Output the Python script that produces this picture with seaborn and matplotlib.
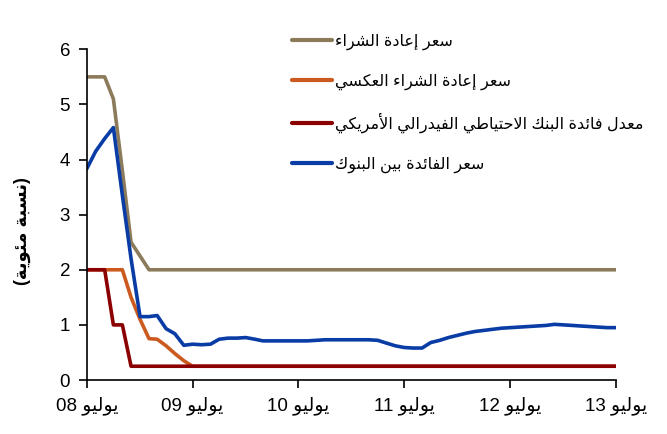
import numpy as np
import pandas as pd
import matplotlib
matplotlib.use("Agg")
import matplotlib.pyplot as plt
import seaborn as sns

# ---------------- data ----------------
start_month = "2008-07-01"
n_months = 61

repo_rate = [5.5, 5.5, 5.5, 5.1, 3.8, 2.5, 2.25, 2.0] + [2.0] * 53

reverse_repo_rate = [2.0, 2.0, 2.0, 2.0, 2.0, 1.5, 1.1, 0.75, 0.74, 0.62, 0.48, 0.35, 0.25] + [0.25] * 48

fed_rate = [2.0, 2.0, 2.0, 1.0, 1.0, 0.25] + [0.25] * 55

interbank_rate = [
    3.83, 4.15, 4.38, 4.58, 3.35, 2.2, 1.15, 1.15, 1.17, 0.93,
    0.84, 0.63, 0.65, 0.64, 0.65, 0.74, 0.76, 0.76, 0.77, 0.74,
    0.71, 0.71, 0.71, 0.71, 0.71, 0.71, 0.72, 0.73, 0.73, 0.73,
    0.73, 0.73, 0.73, 0.72, 0.67, 0.62, 0.59, 0.58, 0.58, 0.68,
    0.72, 0.77, 0.81, 0.85, 0.88, 0.90, 0.92, 0.94, 0.95, 0.96,
    0.97, 0.98, 0.99, 1.01, 1.00, 0.99, 0.98, 0.97, 0.96, 0.95,
    0.95,
]

series_names = [
    "سعر إعادة الشراء",
    "سعر إعادة الشراء العكسي",
    "معدل فائدة البنك الاحتياطي الفيدرالي الأمريكي",
    "سعر الفائدة بين البنوك",
]
series_colors = ["#8C7B5B", "#CC5A1E", "#8B0000", "#0A3CA5"]

tick_years = ["08", "09", "10", "11", "12", "13"]
tick_month_word = "يوليو"
y_label_text = "نسبة مئوية"
y_ticks = [0, 1, 2, 3, 4, 5, 6]

# ---------------- minimal Arabic shaping (presentation forms) ----------------
RIGHT_JOIN = {'آ': 0xFE81, 'أ': 0xFE83, 'ؤ': 0xFE85, 'إ': 0xFE87, 'ا': 0xFE8D,
              'ة': 0xFE93, 'د': 0xFEA9, 'ذ': 0xFEAB, 'ر': 0xFEAD, 'ز': 0xFEAF,
              'و': 0xFEED, 'ى': 0xFEEF}
DUAL_JOIN = {'ئ': 0xFE89, 'ب': 0xFE8F, 'ت': 0xFE95, 'ث': 0xFE99, 'ج': 0xFE9D,
             'ح': 0xFEA1, 'خ': 0xFEA5, 'س': 0xFEB1, 'ش': 0xFEB5, 'ص': 0xFEB9,
             'ض': 0xFEBD, 'ط': 0xFEC1, 'ظ': 0xFEC5, 'ع': 0xFEC9, 'غ': 0xFECD,
             'ف': 0xFED1, 'ق': 0xFED5, 'ك': 0xFED9, 'ل': 0xFEDD, 'م': 0xFEE1,
             'ن': 0xFEE5, 'ه': 0xFEE9, 'ي': 0xFEF1}
LAM_ALEF = {'آ': 0xFEF5, 'أ': 0xFEF7, 'إ': 0xFEF9, 'ا': 0xFEFB}


def shape(text):
    chars = list(text)
    n = len(chars)
    out = []
    i = 0
    while i < n:
        c = chars[i]
        prev_connects = i > 0 and chars[i - 1] in DUAL_JOIN
        if c == 'ل' and i + 1 < n and chars[i + 1] in LAM_ALEF:
            out.append(chr(LAM_ALEF[chars[i + 1]] + (1 if prev_connects else 0)))
            i += 2
            continue
        nxt = chars[i + 1] if i + 1 < n else ''
        next_connects = nxt in DUAL_JOIN or nxt in RIGHT_JOIN
        if c in DUAL_JOIN:
            b = DUAL_JOIN[c]
            if prev_connects and next_connects:
                out.append(chr(b + 3))
            elif prev_connects:
                out.append(chr(b + 1))
            elif next_connects:
                out.append(chr(b + 2))
            else:
                out.append(chr(b))
        elif c in RIGHT_JOIN:
            b = RIGHT_JOIN[c]
            out.append(chr(b + 1) if prev_connects else chr(b))
        elif c == 'ء':
            out.append('\uFE80')
        else:
            out.append(c)
        i += 1
    return ''.join(reversed(out))


# ---------------- plot ----------------
sns.set_theme(style="ticks")
plt.rcParams['font.family'] = ['Liberation Sans', 'DejaVu Sans']
plt.rcParams['text.color'] = 'black'
plt.rcParams['xtick.color'] = 'black'
plt.rcParams['ytick.color'] = 'black'
plt.rcParams['axes.labelcolor'] = 'black'

dates = pd.date_range(start_month, periods=n_months, freq="MS")
df = pd.DataFrame({
    "date": dates,
    series_names[0]: repo_rate,
    series_names[1]: reverse_repo_rate,
    series_names[2]: fed_rate,
    series_names[3]: interbank_rate,
})

fig = plt.figure(figsize=(6.67, 4.34), dpi=100)
ax = fig.add_axes([0.130, 0.1244, 0.7935, 0.762])

for name, color in zip(series_names, series_colors):
    sns.lineplot(data=df, x="date", y=name, ax=ax, color=color, linewidth=2.6,
                 label=shape(name))

ax.set_ylim(0, 6)
ax.set_yticks(y_ticks)
ax.set_yticklabels([str(v) for v in y_ticks], fontsize=13.5)
ax.set_xlim(dates[0], dates[-1])
tick_dates = [pd.Timestamp(f"20{y}-07-01") for y in tick_years]
ax.set_xticks(tick_dates)
ax.set_xticklabels([f"{y} {shape(tick_month_word)}" for y in tick_years], fontsize=13.5)
ax.tick_params(axis="both", direction="out", length=6, width=1.2, color="black",
               labelcolor="black", pad=6)

ax.set_xlabel("")
ax.set_ylabel("(" + shape(y_label_text) + ")", fontsize=13, fontweight="bold")
ax.yaxis.set_label_coords(-0.105, 0.45)

for s in ["top", "right"]:
    ax.spines[s].set_visible(False)
for s in ["left", "bottom"]:
    ax.spines[s].set_color("black")
    ax.spines[s].set_linewidth(1.2)

leg = ax.legend(loc="upper left", bbox_to_anchor=(0.36, 1.09), frameon=False,
                fontsize=11.5, handlelength=2.5, handletextpad=0.2, labelspacing=1.45)
for line in leg.get_lines():
    line.set_linewidth(3)

fig.savefig("out.png", dpi=100)
